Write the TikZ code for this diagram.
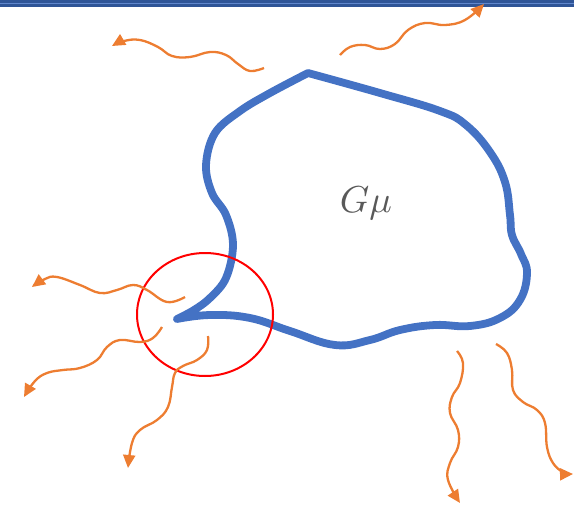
\documentclass[tikz,border=0pt]{standalone}
\usetikzlibrary{arrows.meta,shapes.geometric}
\definecolor{loopblue}{RGB}{68,114,196}
\definecolor{barblue}{RGB}{47,85,151}
\definecolor{wave}{RGB}{237,125,49}
\definecolor{labelgray}{RGB}{89,89,89}
\begin{document}
\begin{tikzpicture}[x=1pt,y=-1pt,
  loopline/.style={draw=loopblue,line width=7.8pt,line join=round,line cap=round},
  wavy/.style={draw=wave,line width=2.3pt,-{Triangle[length=13pt,width=12pt]}},
  ring/.style={draw=red,line width=2pt}]
\useasboundingbox (0,0) rectangle (574,509);
\fill[barblue] (0,0) rectangle (574,6.5);
\draw[loopblue!85,line width=1.2pt] (0,3.5) -- (574,3.5);
% closed string loop with cusp
\draw[loopline] plot[smooth,tension=0.6] coordinates {(177,319) (194,310) (210,298) (226,278) (233,245) (226,215) (212,193) (206,165) (215,133) (240,111) (270,93) (308,73)}
  -- plot[smooth,tension=0.7] coordinates {(308,73) (380,93) (440,111) (466,125) (490,152) (505,182) (510,215) (512,235) (521,254) (527,273) (520,300) (500,318) (470,326) (435,325) (400,330) (370,340) (335,345) (290,331) (250,318) (210,315) (177,319)};
\node[text=labelgray,scale=3.75] (lab) at (366,203) {$G\mu$};
% cusp region
\node[ring,ellipse,minimum width=136pt,minimum height=123pt,inner sep=0pt] (cusp) at (205,314.5) {};
% radiation
\draw[wavy] plot[smooth,tension=0.7] coordinates {(264,68) (250,71) (238,64) (226,55) (210,52) (190,57) (172,56) (158,47) (140,40) (124,41) (112,46)};
\draw[wavy] plot[smooth,tension=0.7] coordinates {(340,55) (350,47) (365,45) (380,49) (395,44) (408,30) (425,23) (445,25) (465,20) (484,4)};
\draw[wavy] plot[smooth,tension=0.7] coordinates {(185,297) (167,302) (147,290) (133,285) (117,290) (100,293) (80,285) (57,277) (45,279) (32,287)};
\draw[wavy] plot[smooth,tension=0.7] coordinates {(162,327) (153,338) (140,342) (120,340) (107,347) (97,360) (80,368) (63,370) (47,373) (35,381) (24,397)};
\draw[wavy] plot[smooth,tension=0.7] coordinates {(208,336) (207,350) (197,360) (183,366) (175,373) (172,387) (168,407) (157,420) (140,430) (132,443) (128,468)};
\draw[wavy] plot[smooth,tension=0.7] coordinates {(457,351) (463,363) (460,383) (452,397) (450,413) (458,430) (458,447) (450,463) (448,480) (460,503)};
\draw[wavy] plot[smooth,tension=0.7] coordinates {(496,344) (507,353) (512,370) (513,390) (523,402) (537,410) (545,423) (547,447) (553,463) (563,472) (573,474)};
\end{tikzpicture}
\end{document}
